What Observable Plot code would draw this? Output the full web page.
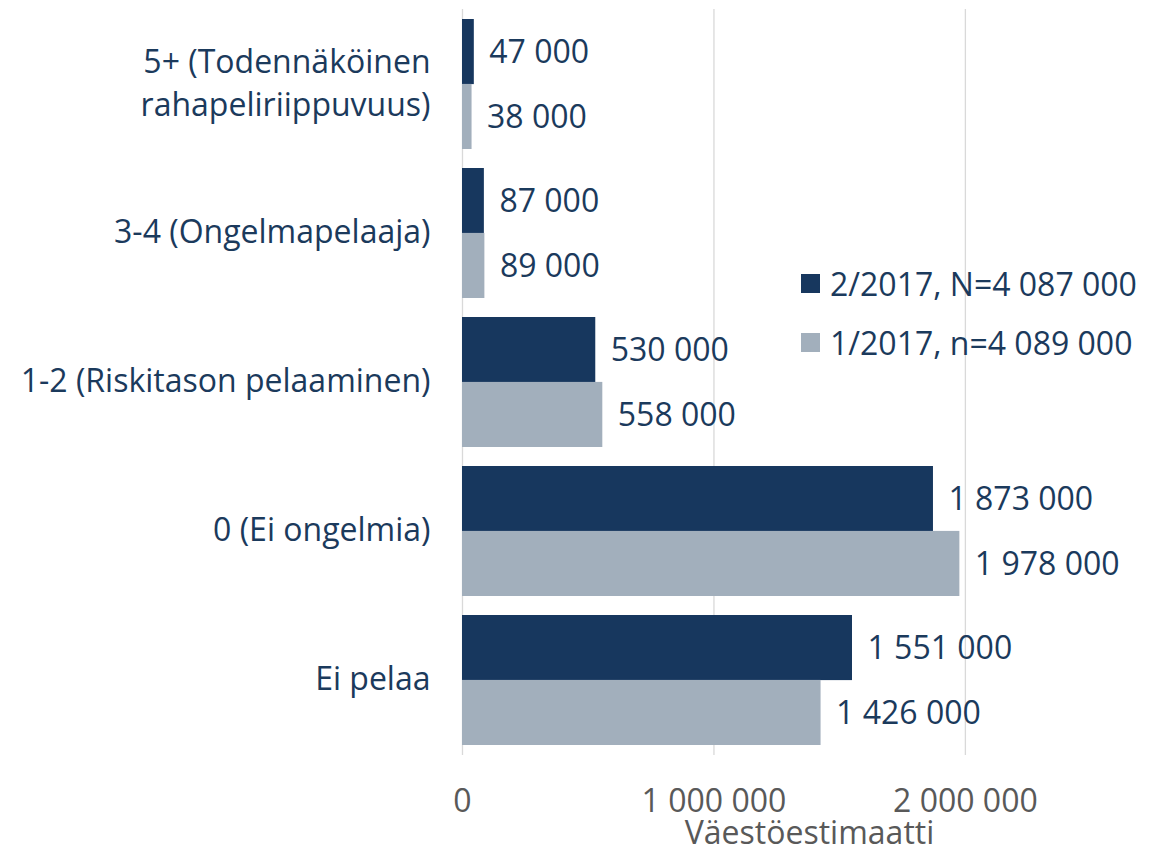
<!DOCTYPE html>
<html><head><meta charset="utf-8">
<script src="https://cdn.jsdelivr.net/npm/d3@7"></script>
<script src="https://cdn.jsdelivr.net/npm/@observablehq/plot@0.6"></script>
<style>
body{margin:0;background:#fff;font-family:"Open Sans",sans-serif;}
#wrap{position:relative;width:1162px;height:853px;}
#wrap svg{position:absolute;left:0;top:0;}
#legend{position:absolute;left:801px;top:254px;font-size:32px;color:#1b3a5c;}
.item{display:flex;align-items:center;height:59px;white-space:nowrap;}
.sw{width:19px;height:19px;margin-right:10px;}
</style></head><body><div id="wrap"><div id="legend"></div></div>
<script>
const categories = ["5+ (Todennäköinen\nrahapeliriippuvuus)", "3-4 (Ongelmapelaaja)", "1-2 (Riskitason pelaaminen)", "0 (Ei ongelmia)", "Ei pelaa"];
const seriesNames = ["2/2017, N=4 087 000", "1/2017, n=4 089 000"];
const values2 = [47000, 87000, 530000, 1873000, 1551000];
const values1 = [38000, 89000, 558000, 1978000, 1426000];
const xTicks = [0, 1000000, 2000000];
const colors = ["#17375e", "#a2afbc"];
const axisTitle = "Väestöestimaatti";

const fmt = v => d3.format(",")(v).replace(/,/g, " ");
const W = 1162, H = 853, mT = 9, mB = 98, mL = 462, mR = 6;
const pInner = 0.13, pOuter = 0.065;
const step = (H - mT - mB) / (categories.length - pInner + 2 * pOuter);
const half = step * (1 - pInner) / 2;

const rows2 = categories.map((c, i) => ({cat: c, v: values2[i]}));
const rows1 = categories.map((c, i) => ({cat: c, v: values1[i]}));

const chart = Plot.plot({
  width: W, height: H,
  marginTop: mT, marginBottom: mB, marginLeft: mL, marginRight: mR,
  style: {fontFamily: "Open Sans", background: "transparent", overflow: "visible"},
  x: {domain: [0, 2760000]},
  y: {domain: categories, paddingInner: pInner, paddingOuter: pOuter, axis: null},
  marks: [
    Plot.ruleX(xTicks, {stroke: "#d9d9d9", strokeWidth: 1.3}),
    Plot.barX(rows2, {x: "v", y: "cat", fill: colors[0], insetBottom: half}),
    Plot.barX(rows1, {x: "v", y: "cat", fill: colors[1], insetTop: half}),
    Plot.text(rows2, {x: "v", y: "cat", text: d => fmt(d.v), dy: -half / 2 + 1, dx: 15, textAnchor: "start", fontSize: 32, fill: "#1b3a5c"}),
    Plot.text(rows1, {x: "v", y: "cat", text: d => fmt(d.v), dy: half / 2 + 1, dx: 15, textAnchor: "start", fontSize: 32, fill: "#1b3a5c"}),
    Plot.text(categories, {y: d => d, frameAnchor: "left", dx: -32, dy: -4, textAnchor: "end", fontSize: 32, lineHeight: 1.35, fill: "#1b3a5c"}),
    Plot.axisX({ticks: xTicks, tickFormat: fmt, tickSize: 0, tickPadding: 34, fontSize: 32, color: "#595959", label: axisTitle, labelAnchor: "center", labelOffset: 88, labelArrow: "none"})
  ]
});
document.getElementById("wrap").prepend(chart);

const lg = document.getElementById("legend");
seriesNames.forEach((s, i) => {
  const it = document.createElement("div"); it.className = "item";
  const sw = document.createElement("div"); sw.className = "sw"; sw.style.background = colors[i];
  const t = document.createElement("span"); t.textContent = s;
  it.append(sw, t); lg.append(it);
});
</script></body></html>
